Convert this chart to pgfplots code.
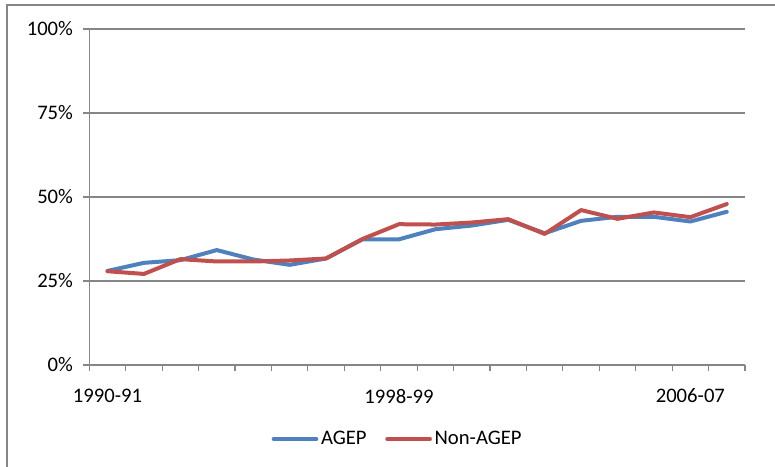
\documentclass[border=0pt]{standalone}
\usepackage{fontspec}
\setmainfont{Carlito}
\usepackage{pgfplots}
\pgfplotsset{compat=1.18}
\definecolor{agep}{HTML}{4F81BD}
\definecolor{nonagep}{HTML}{C0504D}
\definecolor{gridgray}{HTML}{868686}
\pgfplotstableread{
x agep nonagep
0  28.0 27.9
1  30.4 27.1
2  31.2 31.5
3  34.2 30.8
4  31.4 30.8
5  29.8 31.1
6  31.7 31.7
7  37.4 37.5
8  37.4 41.9
9  40.4 41.8
10 41.5 42.4
11 43.2 43.4
12 39.2 39.0
13 42.9 46.1
14 44.1 43.5
15 44.1 45.4
16 42.7 44.0
17 45.6 47.9
}\datatable
\begin{document}
\begin{tikzpicture}
\path[use as bounding box] (-66.98pt,-76.5pt) rectangle (514.3pt,273.75pt);
\draw[gridgray, line width=1pt] (-61.7pt,-80pt) -- (-61.7pt,270pt) -- (520pt,270pt);
\begin{axis}[
 at={(0,0)}, anchor=south west,
 scale only axis, width=491.8pt, height=252pt,
 xmin=-0.5, xmax=17.5, ymin=0, ymax=100,
 axis x line=bottom, axis y line=left,
 axis line style={gridgray, line width=0.9pt, -},
 xtick={-0.5,0.5,1.5,2.5,3.5,4.5,5.5,6.5,7.5,8.5,9.5,10.5,11.5,12.5,13.5,14.5,15.5,16.5,17.5},
 xticklabels={},
 extra x ticks={0,8,16},
 extra x tick labels={1990-91,1998-99,2006-07},
 extra x tick style={major tick length=0pt, grid=none},
 ytick={0,25,50,75,100},
 yticklabels={0\%,25\%,50\%,75\%,100\%},
 ymajorgrids, grid style={gridgray, line width=0.9pt},
 tick align=outside, major tick length=4.7pt,
 tick style={gridgray, line width=0.9pt},
 tick label style={font=\fontsize{15.5}{18}\selectfont, text=black},
 /pgf/number format/assume math mode=true,
 x tick label style={yshift=-14.5pt},
 y tick label style={xshift=-4pt},
 legend style={at={(0.4708,-0.2202)}, anchor=center, draw=none, fill=none,
   legend columns=-1, font=\fontsize{15.5}{18}\selectfont,
   /tikz/every even column/.append style={column sep=12pt},
   inner xsep=0pt},
 legend image code/.code={\draw[#1, line width=3pt, line cap=round] (0pt,0pt) -- (32pt,0pt);},
 every axis plot/.append style={line width=3pt, line join=round, line cap=round, mark=none},
]
\addplot[agep] table[x=x, y=agep] {\datatable};
\addlegendentry{AGEP}
\addplot[nonagep] table[x=x, y=nonagep] {\datatable};
\addlegendentry{Non-AGEP}
\end{axis}
\end{tikzpicture}
\end{document}
